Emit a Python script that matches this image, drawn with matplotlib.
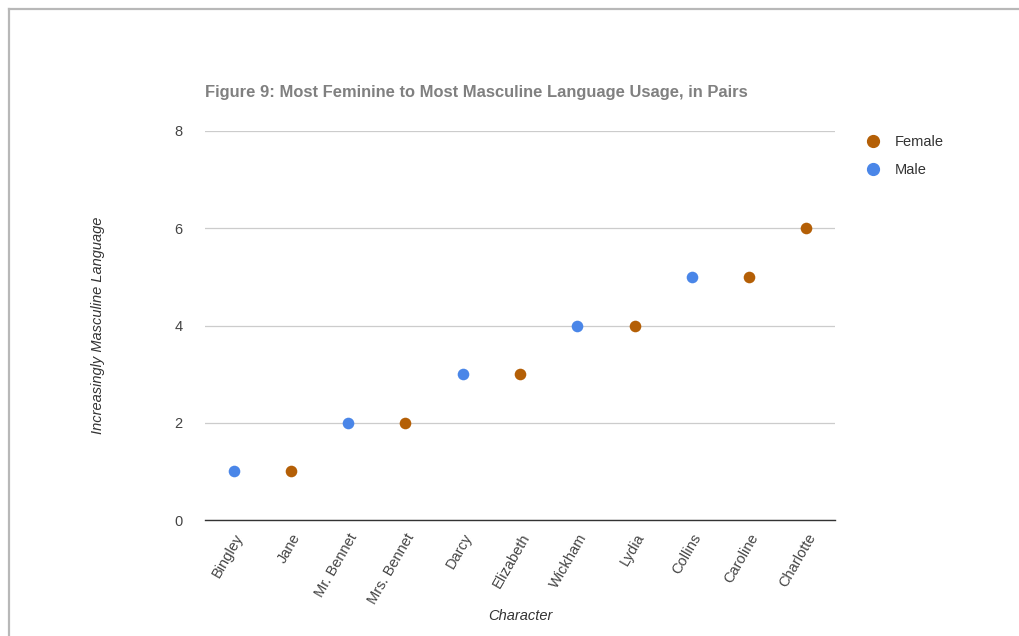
import matplotlib
matplotlib.use("Agg")
import matplotlib.pyplot as plt
from matplotlib.lines import Line2D

plt.rcParams['font.family'] = ['Liberation Sans', 'DejaVu Sans']

characters = ["Bingley", "Jane", "Mr. Bennet", "Mrs. Bennet", "Darcy", "Elizabeth",
              "Wickham", "Lydia", "Collins", "Caroline", "Charlotte"]
scores = [1, 1, 2, 2, 3, 3, 4, 4, 5, 5, 6]
genders = ["Male", "Female", "Male", "Female", "Male", "Female",
           "Male", "Female", "Male", "Female", "Female"]
y_ticks = [0, 2, 4, 6, 8]

colors = {"Female": "#b45f06", "Male": "#4a86e8"}

W, H = 1019, 636
fig = plt.figure(figsize=(W / 100, H / 100), dpi=100)
fig.patch.set_facecolor("white")

# outer frame of the sheet
fig.add_artist(Line2D([9 / W, 1], [1 - 9 / H, 1 - 9 / H], transform=fig.transFigure,
                      color="#b8b8b8", lw=1.6))
fig.add_artist(Line2D([9 / W, 9 / W], [0, 1 - 9 / H], transform=fig.transFigure,
                      color="#b8b8b8", lw=1.6))

ax = fig.add_axes([205 / W, (H - 520) / H, (835 - 205) / W, (520 - 131) / H])

xs = list(range(len(characters)))
for g in ["Female", "Male"]:
    px = [x for x, gg in zip(xs, genders) if gg == g]
    py = [s for s, gg in zip(scores, genders) if gg == g]
    ax.scatter(px, py, s=70, color=colors[g], zorder=3, linewidths=0, label=g)

ax.set_xlim(-0.5, len(characters) - 0.5)
ax.set_ylim(0, 8)
ax.set_yticks(y_ticks)
ax.set_yticklabels([str(t) for t in y_ticks])
ax.set_xticks(xs)
ax.set_xticklabels(characters, rotation=60, ha="right", rotation_mode="anchor")

ax.grid(axis="y", color="#cccccc", lw=0.9, zorder=0)
ax.set_axisbelow(True)
for side in ["top", "right", "left"]:
    ax.spines[side].set_visible(False)
ax.spines["bottom"].set_color("#333333")
ax.spines["bottom"].set_linewidth(1.0)
ax.tick_params(axis="both", length=0, labelsize=10.5, colors="#444444")
ax.tick_params(axis="y", pad=16)
ax.tick_params(axis="x", pad=8)

ax.set_xlabel("Character", fontsize=10.5, style="italic", color="#333333", labelpad=2)
ax.set_ylabel("Increasingly Masculine Language", fontsize=10.5, style="italic",
              color="#333333", labelpad=50)

fig.text(205 / W, 1 - 93 / H, "Figure 9: Most Feminine to Most Masculine Language Usage, in Pairs",
         fontsize=11.9, fontweight="bold", color="#808080", va="center", ha="left")

handles = [Line2D([], [], marker="o", ls="none", color=colors[g], markersize=8.5, label=g)
           for g in ["Female", "Male"]]
fig.legend(handles=handles, loc="upper left", bbox_to_anchor=(860 / W, 1 - 129 / H),
           frameon=False, fontsize=10.5, handletextpad=1.0, labelspacing=1.0,
           handlelength=1.0, borderaxespad=0, labelcolor="#333333")

fig.savefig("out.png", dpi=100, facecolor="white")
